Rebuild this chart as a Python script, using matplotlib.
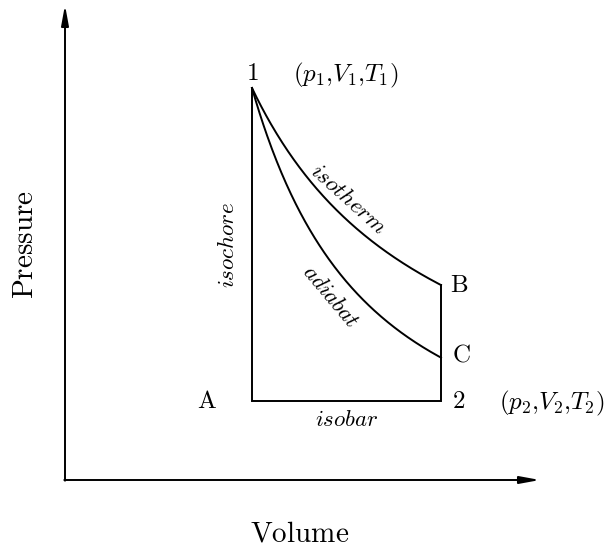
import numpy as np
import matplotlib
matplotlib.use("Agg")
import matplotlib.pyplot as plt

plt.rcParams['mathtext.fontset'] = 'cm'

# State values (arbitrary units)
V1, V2 = 187.0, 376.0      # volumes of states 1 and 2
p1, p2 = 392.0, 79.0       # pressures of states 1 and 2
gamma = 5.0 / 3.0          # adiabatic exponent
axis_len_V, axis_len_p = 475.0, 475.0

V = np.linspace(V1, V2, 200)
p_isotherm = p1 * V1 / V
p_adiabat = p1 * (V1 / V) ** gamma
pB = p_isotherm[-1]
pC = p_adiabat[-1]

fig = plt.figure(figsize=(6.09, 5.48), dpi=100)
ax = fig.add_axes([0, 0, 1, 1])
ax.set_xlim(-65, 544)
ax.set_ylim(-68, 480)
ax.axis('off')

lw = 1.4
# axes arrows
ax.annotate('', xy=(axis_len_V, 0), xytext=(-0.7, 0),
            arrowprops=dict(arrowstyle='-|>,head_length=1.2,head_width=0.22', lw=lw, color='black', shrinkA=0, shrinkB=0))
ax.annotate('', xy=(0, axis_len_p), xytext=(0, -0.7),
            arrowprops=dict(arrowstyle='-|>,head_length=1.2,head_width=0.22', lw=lw, color='black', shrinkA=0, shrinkB=0))

# process lines
ax.plot(V, p_isotherm, color='black', lw=lw)
ax.plot(V, p_adiabat, color='black', lw=lw)
ax.plot([V1, V1, V2, V2], [p1, p2, p2, pB], color='black', lw=lw, solid_joinstyle='miter')

fs = 18
ax.text(V1, p1 + 15, r'$1$', fontsize=fs, ha='center', va='center')
ax.text(V1 + 94, p1 + 13, r'$(p_1{,}V_1{,}T_1)$', fontsize=fs, ha='center', va='center')
ax.text(V1 - 45, p2, r'$\mathrm{A}$', fontsize=fs, ha='center', va='center')
ax.text(V2 + 18, p2, r'$2$', fontsize=fs, ha='center', va='center')
ax.text(V2 + 111, p2 - 2, r'$(p_2{,}V_2{,}T_2)$', fontsize=fs, ha='center', va='center')
ax.text(V2 + 18, pB, r'$\mathrm{B}$', fontsize=fs, ha='center', va='center')
ax.text(V2 + 20, pC + 3, r'$\mathrm{C}$', fontsize=fs, ha='center', va='center')

fs2 = 16.5
ax.text(283, 281, r'$\mathit{isotherm}$', fontsize=fs2, rotation=-42, ha='center', va='center', rotation_mode='anchor')
ax.text(266, 184, r'$\mathit{adiabat}$', fontsize=fs2, rotation=-50, ha='center', va='center', rotation_mode='anchor')
ax.text(V1 - 24, 235, r'$\mathit{isochore}$', fontsize=fs2, rotation=90, ha='center', va='center')
ax.text((V1 + V2) / 2, p2 - 18, r'$\mathit{isobar}$', fontsize=fs2, ha='center', va='center')

ax.text(-40, 235, r'$\mathrm{Pressure}$', fontsize=21, rotation=90, ha='center', va='center')
ax.text(235, -53, r'$\mathrm{Volume}$', fontsize=21, ha='center', va='center')

fig.savefig('out.png', dpi=100)
